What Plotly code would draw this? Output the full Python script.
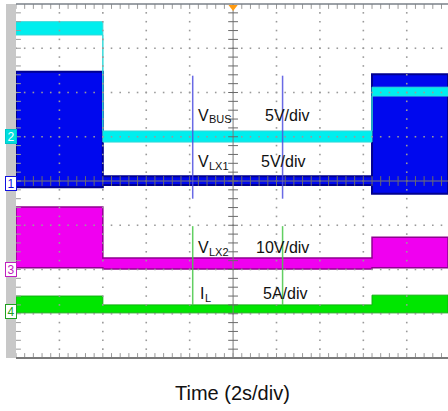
import numpy as np
import plotly.graph_objects as go

# ---- capture data -------------------------------------------------------
# Segment boundaries of the acquisition (seconds, 2 s/div, 10 div)
seg_t = [0.0, 4.0, 16.4, 19.9]

# Envelope of each channel per segment (upper / lower), physical units
vbus_hi = [13.0, 0.65, 5.6]
vbus_lo = [11.5, -0.6, 4.6]
vlx1_hi = [12.6, 0.8, 12.3]
vlx1_lo = [-0.45, -0.2, -1.2]
vlx2_hi = [14.1, 2.6, 7.3]
vlx2_lo = [0.4, 0.1, 0.4]
il_hi = [1.75, 0.75, 1.85]
il_lo = [-0.15, -0.15, -0.15]

# Channel settings: volts (amps) per division and ground offset in divisions
ch_names = ["1", "2", "3", "4"]
ch_scale = [5.0, 5.0, 10.0, 5.0]
ch_offset = [-0.05, 1.0, -2.0, -2.95]
ch_fill = ["#0008ee", "#00eeee", "#f000f0", "#00e600"]
ch_edge = ["#000090", "#30d8d8", "#900090", "#10b010"]
ch_edge_w = [2, 1, 1.5, 1]

# Cursor positions (s) and labels
cursor_t = [8.14, 12.28]
label_main = ["V", "V", "V", "I"]
label_sub = ["BUS", "LX1", "LX2", "L"]
label_scales = ["5V/div", "5V/div", "10V/div", "5A/div"]

T_MAX = seg_t[-1]
FONT = "Liberation Sans, Arial, sans-serif"

fig = go.Figure()


def band(hi, lo, scale, offset):
    xs, ys = [], []
    for i in range(len(hi)):
        xs += [seg_t[i], seg_t[i + 1]]
        ys += [offset + hi[i] / scale] * 2
    for i in reversed(range(len(lo))):
        xs += [seg_t[i + 1], seg_t[i]]
        ys += [offset + lo[i] / scale] * 2
    xs.append(xs[0])
    ys.append(ys[0])
    return xs, ys


# draw order: VLX1(1), VBUS(2), VLX2(3), IL(4)
series = [(0, vlx1_hi, vlx1_lo), (1, vbus_hi, vbus_lo),
          (2, vlx2_hi, vlx2_lo), (3, il_hi, il_lo)]
for ci, hi, lo in series:
    xs, ys = band(hi, lo, ch_scale[ci], ch_offset[ci])
    fig.add_trace(go.Scatter(x=xs, y=ys, mode="lines", fill="toself",
                             fillcolor=ch_fill[ci],
                             line=dict(color=ch_edge[ci], width=ch_edge_w[ci]),
                             hoverinfo="skip", showlegend=False))

# cursors
cur_blue = "rgba(80,80,225,0.85)"
cur_green = "rgba(70,200,70,0.85)"
for t in cursor_t:
    fig.add_trace(go.Scatter(x=[t, t], y=[2.38, -0.4], mode="lines",
                             line=dict(color=cur_blue, width=1.5),
                             hoverinfo="skip", showlegend=False))
    fig.add_trace(go.Scatter(x=[t, t], y=[-1.02, -2.81], mode="lines",
                             line=dict(color=cur_green, width=1.5),
                             hoverinfo="skip", showlegend=False))

# ---- graticule ------------------------------------------------------------
grid_c = "#9a9a9a"
dx, dy = [], []
for t in np.arange(2, 20, 2):
    if abs(t - 10) < 1e-6:
        continue
    for y in np.arange(-4, 4.01, 0.2):
        dx.append(t)
        dy.append(y)
for y in range(-3, 4):
    if y == 0:
        continue
    for t in np.arange(0, T_MAX, 0.4):
        dx.append(t)
        dy.append(y)
fig.add_trace(go.Scatter(x=dx, y=dy, mode="markers",
                         marker=dict(symbol="square", size=1.6, color=grid_c,
                                     line=dict(width=0)),
                         hoverinfo="skip", showlegend=False))

# centre axes
fig.add_trace(go.Scatter(x=[10, 10], y=[-4, 4], mode="lines",
                         line=dict(color="#7a7a7a", width=1),
                         hoverinfo="skip", showlegend=False))
fig.add_trace(go.Scatter(x=[0, T_MAX], y=[0, 0], mode="lines",
                         line=dict(color="#7a7a7a", width=1),
                         hoverinfo="skip", showlegend=False))
ty = np.arange(-4, 4.01, 0.2)
fig.add_trace(go.Scatter(x=[10] * len(ty), y=ty, mode="markers",
                         marker=dict(symbol="line-ew", size=7,
                                     line=dict(color="#6a6a6a", width=1)),
                         hoverinfo="skip", showlegend=False))
tx = np.arange(0, T_MAX, 0.4)
fig.add_trace(go.Scatter(x=tx, y=[0] * len(tx), mode="markers",
                         marker=dict(symbol="line-ns", size=7,
                                     line=dict(color="#6a6a6a", width=1)),
                         hoverinfo="skip", showlegend=False))
# border ticks
fig.add_trace(go.Scatter(x=list(tx) + list(tx), y=[4] * len(tx) + [-4] * len(tx),
                         mode="markers",
                         marker=dict(symbol="line-ns", size=7,
                                     line=dict(color="#9a9a9a", width=1)),
                         hoverinfo="skip", showlegend=False))
fig.add_trace(go.Scatter(x=[0] * len(ty), y=ty, mode="markers",
                         marker=dict(symbol="line-ew", size=7,
                                     line=dict(color="#9a9a9a", width=1)),
                         hoverinfo="skip", showlegend=False))

# trigger position marker
fig.add_trace(go.Scatter(x=[10], y=[3.93], mode="markers", cliponaxis=False,
                         marker=dict(symbol="triangle-down", size=8,
                                     color="#ff9a10", line=dict(width=0)),
                         hoverinfo="skip", showlegend=False))

# ---- labels ---------------------------------------------------------------
label_y = [1.47, 0.44, -1.51, -2.54]      # centre of the main letter (div)
sub_dy = [-0.075, -0.09, -0.09, -0.105]   # subscript drop (div)
name_t = [8.29, 8.29, 8.29, 8.38]
sub_t = [8.80, 8.80, 8.80, 8.62]
scale_t = [11.38, 11.2, 10.97, 11.29]
annotations = []
for i in range(4):
    annotations.append(dict(x=name_t[i], y=label_y[i], xref="x", yref="y",
                            text=label_main[i], showarrow=False,
                            xanchor="left", yanchor="middle",
                            font=dict(family=FONT, size=16, color="#111111")))
    annotations.append(dict(x=sub_t[i], y=label_y[i] + sub_dy[i],
                            xref="x", yref="y",
                            text=label_sub[i], showarrow=False,
                            xanchor="left", yanchor="middle",
                            font=dict(family=FONT, size=11, color="#111111")))
    annotations.append(dict(x=scale_t[i], y=label_y[i], xref="x", yref="y",
                            text=label_scales[i], showarrow=False,
                            xanchor="left", yanchor="middle",
                            font=dict(family=FONT, size=16, color="#111111")))

# channel ground markers on the left strip
mark_bg = ["white", "#00dede", "white", "white"]
mark_fg = ["#1010e0", "white", "#c020c0", "#20a020"]
mark_bd = ["#1010e0", "#00c8c8", "#c020c0", "#20a020"]
for i in range(4):
    annotations.append(dict(x=-0.0125, y=ch_offset[i], xref="paper", yref="y",
                            text=ch_names[i], showarrow=False,
                            xanchor="center", yanchor="middle",
                            width=10, height=13, borderpad=0, borderwidth=1,
                            bordercolor=mark_bd[i], bgcolor=mark_bg[i],
                            font=dict(family=FONT, size=12, color=mark_fg[i])))

annotations.append(dict(x=0.5, y=-0.099, xref="paper",
                        yref="paper", text="Time (2s/div)", showarrow=False,
                        xanchor="center", yanchor="middle",
                        font=dict(family=FONT, size=20, color="#111111")))

shapes = [
    # left side strip
    dict(type="rect", xref="paper", yref="paper", x0=-10 / 432, x1=0,
         y0=0, y1=1, fillcolor="#c8c8c8", line=dict(width=0), layer="below"),
    # top and bottom frame
    dict(type="line", xref="paper", yref="paper", x0=0, x1=1, y0=1, y1=1,
         line=dict(color="#7a8088", width=1.5)),
    dict(type="line", xref="paper", yref="paper", x0=0, x1=1, y0=0, y1=0,
         line=dict(color="#7a7a7a", width=2)),
]

fig.update_layout(
    width=448, height=411,
    margin=dict(l=16, r=0, t=4, b=53),
    paper_bgcolor="white", plot_bgcolor="white",
    xaxis=dict(range=[0, T_MAX], showgrid=False, zeroline=False,
               showticklabels=False, ticks="", fixedrange=True),
    yaxis=dict(range=[-4, 4], showgrid=False, zeroline=False,
               showticklabels=False, ticks="", fixedrange=True),
    annotations=annotations, shapes=shapes,
    showlegend=False,
)

fig.write_html("out.html")
